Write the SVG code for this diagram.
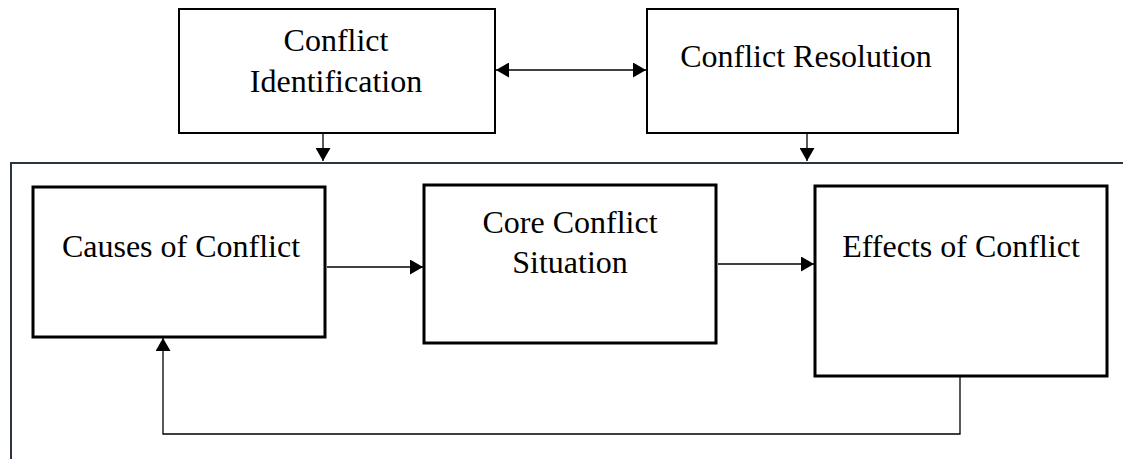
<svg xmlns="http://www.w3.org/2000/svg" width="1123" height="459" viewBox="0 0 1123 459">
  <defs>
    <marker id="head" viewBox="0 0 13 15" refX="13" refY="7.5" markerWidth="13" markerHeight="15" markerUnits="userSpaceOnUse" orient="auto-start-reverse">
      <path d="M0,0 L13,7.5 L0,15 Z" fill="#000"/>
    </marker>
  </defs>
  <style>
    .box { fill: #fff; stroke: #000; stroke-width: 2; }
    .boxb { fill: #fff; stroke: #000; stroke-width: 3; }
    .frame { fill: none; stroke: #2b3440; stroke-width: 2; }
    .link { fill: none; stroke: #000; stroke-width: 1.3; }
    text { font-family: "Liberation Serif", "Times New Roman", serif; font-size: 32px; fill: #000; text-anchor: middle; }
  </style>
  <rect width="1123" height="459" fill="#fff"/>

  <!-- open frame around the cycle -->
  <path class="frame" d="M11,459 V163 H1123"/>

  <g id="conflict-identification">
    <rect class="box" x="179" y="9" width="316" height="124"/>
    <text x="336" y="51">Conflict</text>
    <text x="336" y="92">Identification</text>
  </g>

  <g id="conflict-resolution">
    <rect class="box" x="647" y="9" width="311" height="124"/>
    <text x="806" y="67">Conflict Resolution</text>
  </g>

  <g id="causes">
    <rect class="boxb" x="33" y="187" width="292" height="150"/>
    <text x="181" y="257">Causes of Conflict</text>
  </g>

  <g id="core">
    <rect class="boxb" x="424" y="185" width="292" height="158"/>
    <text x="570" y="233">Core Conflict</text>
    <text x="570" y="273">Situation</text>
  </g>

  <g id="effects">
    <rect class="boxb" x="815" y="186" width="292" height="190"/>
    <text x="961" y="257">Effects of Conflict</text>
  </g>

  <g id="connectors">
    <line class="link" x1="496" y1="70" x2="646" y2="70" marker-start="url(#head)" marker-end="url(#head)"/>
    <line class="link" x1="323" y1="134" x2="323" y2="161" marker-end="url(#head)"/>
    <line class="link" x1="807" y1="134" x2="807" y2="161" marker-end="url(#head)"/>
    <line class="link" x1="327" y1="267" x2="423" y2="267" marker-end="url(#head)"/>
    <line class="link" x1="718" y1="264" x2="814" y2="264" marker-end="url(#head)"/>
    <path class="link" d="M960,377 V434 H163 V338" marker-end="url(#head)"/>
  </g>
</svg>
